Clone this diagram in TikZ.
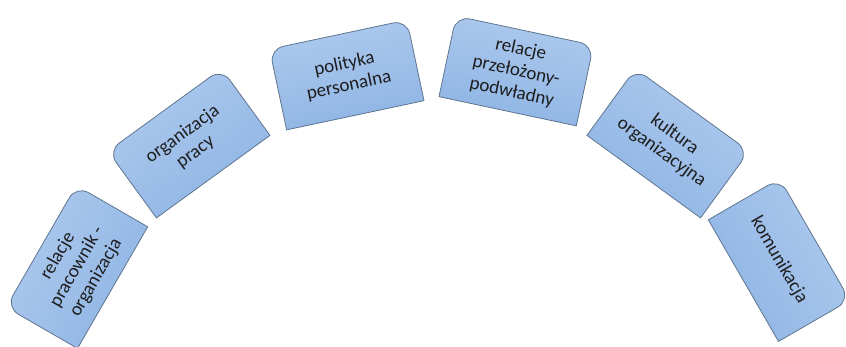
\documentclass[tikz,border=0pt]{standalone}
\usepackage{fontspec}
\setmainfont{Carlito}
\usetikzlibrary{calc,backgrounds}
\definecolor{boxtop}{RGB}{174,202,238}
\definecolor{boxbot}{RGB}{142,180,228}
\definecolor{boxline}{RGB}{95,118,145}
\definecolor{txt}{RGB}{30,30,30}
\tikzset{
  arcbox/.style={minimum width=140pt, minimum height=82pt, inner sep=0pt,
    align=center, text=txt, font=\fontsize{19}{22}\selectfont},
  boxpath/.style={draw=boxline, line width=0.8pt},
  boxshadow/.style={fill=black!45, opacity=0.45},
}
\newcommand{\arcitem}[4]{%
  \node[arcbox, rotate=#2-90] (#1) at ($(430,-129)+(#2:410)+(#4)$) {#3};
  \begin{scope}[on background layer]
    \path[boxshadow, xshift=1.5pt, yshift=-1.2pt]
      (#1.south west) -- (#1.south east) -- ($(#1.south east)!0.5!(#1.north east)$)
      [rounded corners=14pt] -- (#1.north east) -- (#1.north west)
      -- ($(#1.north west)!0.5!(#1.south west)$) [sharp corners] -- cycle;
    \path[boxpath, top color=boxtop, bottom color=boxbot, shading angle=#2-90]
      (#1.south west) -- (#1.south east) -- ($(#1.south east)!0.5!(#1.north east)$)
      [rounded corners=14pt] -- (#1.north east) -- (#1.north west)
      -- ($(#1.north west)!0.5!(#1.south west)$) [sharp corners] -- cycle;
  \end{scope}}
\begin{document}
\begin{tikzpicture}[x=1pt,y=1pt]
  \useasboundingbox (0,0) rectangle (846,346);
  \arcitem{b1}{150}{relacje\\pracownik -\\organizacja}{2,3}
  \arcitem{b2}{126}{organizacja\\pracy}{0,0}
  \arcitem{b3}{102}{polityka\\personalna}{2,-1}
  \arcitem{b4}{78}{relacje\\przełożony-\\podwładny}{1,3}
  \arcitem{b5}{54}{kultura\\organizacyjna}{-3,0}
  \arcitem{b6}{30}{komunikacja}{-6,10}
\end{tikzpicture}
\end{document}
